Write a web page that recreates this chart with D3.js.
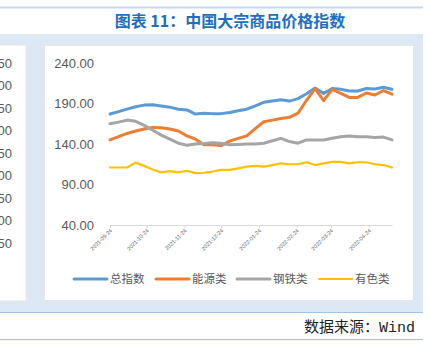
<!DOCTYPE html>
<html lang="zh">
<head>
  <meta charset="UTF-8">
  <title>中国大宗商品价格指数</title>
  <script src="https://d3js.org/d3.v7.min.js"></script>
  <style>
    body { margin: 0; background: #fff; }
    text { font-family: "Liberation Sans", "Noto Sans CJK SC", sans-serif; }
    .cjk { font-family: "Noto Sans CJK SC", sans-serif; }
    .line { fill: none; stroke-linejoin: round; stroke-linecap: round; }
  </style>
</head>
<body>
  <svg width="430" height="354"></svg>
  <script>
    // weekly dates (categories)
    var dates = ["2021-09-24","2021-10-01","2021-10-08","2021-10-15","2021-10-22","2021-10-29",
                 "2021-11-05","2021-11-12","2021-11-19","2021-11-26","2021-12-03","2021-12-10",
                 "2021-12-17","2021-12-24","2021-12-31","2022-01-07","2022-01-14","2022-01-21",
                 "2022-01-28","2022-02-04","2022-02-11","2022-02-18","2022-02-25","2022-03-04",
                 "2022-03-11","2022-03-18","2022-03-25","2022-04-01","2022-04-08","2022-04-15",
                 "2022-04-22","2022-04-29","2022-05-06","2022-05-13"];

    var seriesNames = ["总指数", "能源类", "钢铁类", "有色类"];
    var seriesColors = ["#5b9bd5", "#ed7d31", "#a5a5a5", "#ffc000"];

    var total = [177,180,183,186,188,188.5,187,185.5,183,182,177,178,
                 177.5,177.5,179,181,183,187,191.5,193,194.5,193,196,
                 202,209,202.5,208.5,207.5,205.5,205.5,208.5,208,210,207.5];
    var energy = [145,149,153,156,158.5,160.5,160,158.5,156,150,146,139,
                  139,138,143.5,147,150,159,167.5,169.5,171.5,173,178,
                  194,208.5,193.5,207.5,202.5,197.5,197.5,203,200.5,206,201.5];
    var steel = [165,167,169.5,168,163,157,151,146,141,138.5,140,140.5,
                 141.5,141,139,139.5,140,140,141,144,147,143,141,
                 145,145,145,147,149,150,149,149,148,148.5,145];
    var nonferrous = [111,111,111,117,113,108.5,105,106.5,105,107,104,104.5,
                      106,108,108,110,112,113,112,114,116,115,115,
                      117.5,114,116,118,118,116,117.5,117.5,115,114,111];

    var xTickLabels = ["2021-09-24","2021-10-24","2021-11-24","2021-12-24",
                       "2022-01-24","2022-02-24","2022-03-24","2022-04-24"];
    var yTicks = [40, 90, 140, 190, 240];
    // clipped axis labels of the neighbouring chart on the left
    var leftTickLabels = ["4.50","4.00","3.50","3.00","2.50","2.00","1.50","1.00","0.50"];

    var parseDate = d3.timeParse("%Y-%m-%d");
    var series = [total, energy, steel, nonferrous].map(function(vals, i) {
      return {
        name: seriesNames[i],
        color: seriesColors[i],
        values: vals.map(function(v, j) { return {date: parseDate(dates[j]), value: v}; })
      };
    });

    var svg = d3.select("svg");

    // page frame
    svg.append("line").attr("x1", 0).attr("x2", 423).attr("y1", 7.5).attr("y2", 7.5)
       .attr("stroke", "#c6d9f0").attr("stroke-width", 2);
    svg.append("text").attr("class", "cjk")
       .attr("x", 230).attr("y", 27)
       .attr("text-anchor", "middle")
       .attr("font-size", 16).attr("font-weight", "bold")
       .attr("fill", "#1f6fbf")
       .text("图表 11：中国大宗商品价格指数");
    svg.append("rect").attr("x", 0).attr("y", 34).attr("width", 423).attr("height", 278)
       .attr("fill", "#dde8f5");
    svg.append("rect").attr("x", -1).attr("y", 45).attr("width", 27).attr("height", 256)
       .attr("fill", "#fff").attr("stroke", "#e6e6e6");
    svg.append("rect").attr("x", 44.5).attr("y", 45.5).attr("width", 369).attr("height", 255)
       .attr("fill", "#fff").attr("stroke", "#e6e6e6");
    svg.append("line").attr("x1", 0).attr("x2", 423).attr("y1", 312.5).attr("y2", 312.5)
       .attr("stroke", "#9dc3e6").attr("stroke-width", 1);
    svg.append("line").attr("x1", 0).attr("x2", 423).attr("y1", 339.5).attr("y2", 339.5)
       .attr("stroke", "#9dc3e6").attr("stroke-width", 1);
    var src = svg.append("text")
       .attr("x", 415).attr("y", 332)
       .attr("text-anchor", "end")
       .attr("font-size", 15).attr("fill", "#222");
    src.append("tspan").attr("class", "cjk").text("数据来源：");
    src.append("tspan").attr("font-family", "Liberation Mono").text("Wind");

    // left clipped panel labels
    svg.append("clipPath").attr("id", "leftclip")
       .append("rect").attr("x", 0).attr("y", 45).attr("width", 26).attr("height", 256);
    svg.append("g").attr("clip-path", "url(#leftclip)")
       .selectAll("text").data(leftTickLabels).enter().append("text")
       .attr("x", 12).attr("y", function(d, i) { return 63 + i * 22.5; })
       .attr("dy", "0.35em").attr("text-anchor", "end")
       .attr("font-size", 13).attr("fill", "#595959")
       .text(function(d) { return d; });

    // scales
    var x = d3.scaleTime()
              .domain([parseDate(dates[0]), parseDate(dates[dates.length - 1])])
              .range([110, 392]);
    var y = d3.scaleLinear().domain([40, 240]).range([225, 63]);

    // y axis
    var yAxis = svg.append("g").attr("transform", "translate(96,0)")
       .call(d3.axisLeft(y).tickValues(yTicks).tickFormat(d3.format(".2f")).tickSize(0));
    yAxis.select(".domain").remove();
    yAxis.selectAll("text").attr("font-size", 13).attr("fill", "#595959")
         .attr("font-family", "Liberation Sans").attr("x", -2);

    // x axis
    var xAxis = svg.append("g").attr("transform", "translate(0,225)")
       .call(d3.axisBottom(x)
         .tickValues(xTickLabels.map(parseDate))
         .tickFormat(d3.timeFormat("%Y-%m-%d"))
         .tickSize(3)
         .tickSizeOuter(0));
    xAxis.select(".domain").attr("stroke", "#d9d9d9");
    xAxis.selectAll(".tick line").attr("stroke", "#d9d9d9");
    xAxis.selectAll("text")
         .attr("font-size", 5.5).attr("fill", "#595959")
         .attr("font-family", "Liberation Sans")
         .attr("text-anchor", "end")
         .attr("x", 0).attr("y", 0).attr("dy", 0)
         .attr("transform", "translate(2,6) rotate(-45)");

    // lines
    var line = d3.line()
      .x(function(d) { return x(d.date); })
      .y(function(d) { return y(d.value); });
    svg.selectAll(".line").data(series).enter().append("path")
       .attr("class", "line")
       .attr("stroke", function(d) { return d.color; })
       .attr("stroke-width", function(d, i) { return i === 3 ? 2.2 : 3; })
       .attr("d", function(d) { return line(d.values); });

    // legend
    var legendX = [74, 156, 237, 319];
    var legend = svg.selectAll(".legend").data(series).enter().append("g")
       .attr("class", "legend")
       .attr("transform", function(d, i) { return "translate(" + legendX[i] + ",279)"; });
    legend.append("line").attr("x1", 0).attr("x2", 33).attr("y1", 0).attr("y2", 0)
       .attr("stroke", function(d) { return d.color; })
       .attr("stroke-width", function(d, i) { return i === 3 ? 2.2 : 3; })
       .attr("stroke-linecap", "round");
    legend.append("text").attr("class", "cjk")
       .attr("x", 36).attr("dy", "0.36em")
       .attr("font-size", 11.5).attr("fill", "#595959")
       .text(function(d) { return d.name; });
  </script>
</body>
</html>
